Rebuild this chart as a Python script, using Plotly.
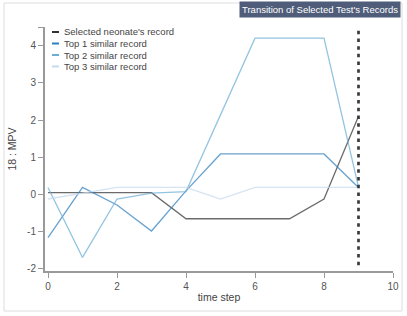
import plotly.graph_objects as go

time_steps = [0, 1, 2, 3, 4, 5, 6, 7, 8, 9]
selected = [0.05, 0.05, 0.05, 0.05, -0.65, -0.65, -0.65, -0.65, -0.12, 2.1]
top1 = [-1.16, 0.19, -0.28, -0.98, 0.1, 1.09, 1.09, 1.09, 1.09, 0.19]
top2 = [0.19, -1.69, -0.12, 0.04, 0.08, 2.15, 4.2, 4.2, 4.2, 0.2]
top3 = [-0.12, 0.04, 0.19, 0.19, 0.19, -0.12, 0.19, 0.19, 0.19, 0.19]
series_names = ["Selected neonate's record", "Top 1 similar record",
                "Top 2 similar record", "Top 3 similar record"]
series_colors = ["#333333", "#2f7fbf", "#6baed6", "#c6dbef"]
current_step = 9
y_ticks = [-2, -1, 0, 1, 2, 3, 4]
x_ticks = [0, 2, 4, 6, 8, 10]
title_text = "Transition of Selected Test's Records"
x_title = "time step"
y_title = "18 : MPV"

FONT = "Helvetica Neue, Helvetica, Liberation Sans, Arial, sans-serif"

fig = go.Figure()
all_series = [selected, top1, top2, top3]
for vals, name, col in zip(all_series, series_names, series_colors):
    fig.add_trace(go.Scatter(x=time_steps, y=vals, mode="lines", name=name,
                             line=dict(color=col, width=1.3), opacity=0.72,
                             showlegend=False, hoverinfo="skip"))

fig.add_trace(go.Scatter(x=[current_step, current_step], y=[-1.9, 4.5], mode="lines",
                         line=dict(color="#3a3a3a", width=2.7, dash="3.5px,4.2px"),
                         showlegend=False, hoverinfo="skip"))

W, H = 407, 316
ml, mr, mt, mb = 45, 14, 27, 45
pw, ph = W - ml - mr, H - mt - mb

def px_x(p):
    return (p - ml) / pw

def px_y(p):
    return (H - mb - p) / ph

shapes = []
annotations = []
# outer border
shapes.append(dict(type="rect", xref="paper", yref="paper",
                   x0=px_x(4), x1=px_x(402), y0=px_y(311), y1=px_y(3),
                   line=dict(color="#dddddd", width=1), layer="below"))
# legend
for i, (name, col) in enumerate(zip(series_names, series_colors)):
    yy = 32 + i * 11.5
    shapes.append(dict(type="line", xref="paper", yref="paper",
                       x0=px_x(52), x1=px_x(59), y0=px_y(yy), y1=px_y(yy),
                       line=dict(color=col, width=2)))
    annotations.append(dict(text=name, xref="paper", yref="paper",
                            x=px_x(62), y=px_y(yy), xanchor="left", yanchor="middle",
                            showarrow=False, font=dict(family=FONT, size=9.5, color="#444444")))
# title box
annotations.append(dict(text=title_text, xref="paper", yref="paper",
                        x=px_x(401), y=px_y(1), xanchor="right", yanchor="top",
                        showarrow=False, bgcolor="#4f5d7a", borderpad=2,
                        font=dict(family=FONT, size=9.5, color="white")))

fig.update_layout(
    width=W, height=H,
    margin=dict(l=ml, r=mr, t=mt, b=mb, autoexpand=False),
    paper_bgcolor="white", plot_bgcolor="white",
    shapes=shapes, annotations=annotations,
    font=dict(family=FONT, size=10, color="#555555"),
)
x0 = -3 / 34.5
fig.update_xaxes(range=[x0, 10], tickvals=x_ticks, ticks="outside", ticklen=5,
                 tickcolor="#999999", showline=True, linecolor="#999999", linewidth=2,
                 showgrid=False, zeroline=False, automargin=False,
                 tickfont=dict(family=FONT, size=10, color="#555555"),
                 title=dict(text=x_title, standoff=3,
                            font=dict(family=FONT, size=10.5, color="#444444")))
fig.update_yaxes(range=[-2.054, 4.5], tickvals=y_ticks + [4.5],
                 ticktext=[str(v) for v in y_ticks] + [""],
                 ticks="outside", ticklen=5, tickcolor="#999999",
                 showline=True, linecolor="#999999", linewidth=2,
                 showgrid=False, zeroline=False, automargin=False,
                 tickfont=dict(family=FONT, size=10, color="#555555"),
                 title=dict(text=y_title, standoff=8,
                            font=dict(family=FONT, size=10.5, color="#444444")))

fig.write_html("out.html", config={"displayModeBar": False},
               post_script="document.body.style.margin='0';")
